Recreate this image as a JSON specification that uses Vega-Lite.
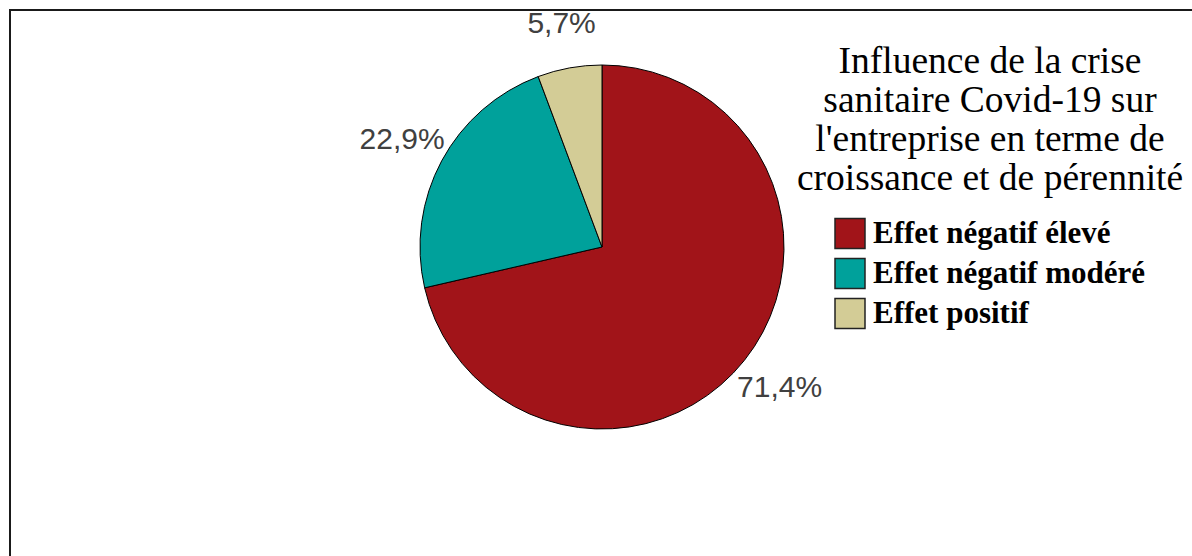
{
  "$schema": "https://vega.github.io/schema/vega-lite/v6.json",
  "autosize": "none",
  "width": 1182,
  "height": 546,
  "padding": {"left": 10, "top": 10, "right": 0, "bottom": 0},
  "background": "white",
  "view": {"stroke": "#1a1a1a", "strokeWidth": 2, "strokeDash": [1182, 1728, 546]},
  "data": {
    "values": [
      {"category": "Effet négatif élevé", "rank": 1, "pct": 71.4, "label": "71,4%"},
      {"category": "Effet négatif modéré", "rank": 2, "pct": 22.9, "label": "22,9%"},
      {"category": "Effet positif", "rank": 3, "pct": 5.7, "label": "5,7%"}
    ]
  },
  "layer": [
    {
      "mark": {"type": "arc", "radius": 182, "stroke": "#000000", "strokeWidth": 1, "xOffset": 1, "yOffset": -36},
      "encoding": {
        "theta": {"field": "pct", "type": "quantitative", "stack": true},
        "order": {"field": "rank", "type": "quantitative", "sort": "ascending"},
        "color": {
          "field": "category",
          "type": "nominal",
          "scale": {
            "domain": ["Effet négatif élevé", "Effet négatif modéré", "Effet positif"],
            "range": ["#A11419", "#00A19B", "#D3CC96"]
          },
          "legend": {
            "orient": "none",
            "legendX": 787,
            "legendY": 33,
            "padding": 0,
            "title": ["Influence de la crise", "sanitaire Covid-19 sur", "l'entreprise en terme de", "croissance et de pérennité"],
            "titleFont": "Liberation Serif",
            "titleFontSize": 37.5,
            "titleFontWeight": "normal",
            "titleColor": "#000000",
            "titleLineHeight": 39,
            "titleAlign": "center",
            "titleAnchor": "middle",
            "titlePadding": 20,
            "titleLimit": 600,
            "labelFont": "Liberation Serif",
            "labelFontSize": 31,
            "labelFontWeight": "bold",
            "labelColor": "#000000",
            "labelLimit": 500,
            "labelOffset": 7,
            "symbolType": "square",
            "symbolSize": 900,
            "symbolStrokeColor": "#222222",
            "symbolStrokeWidth": 1.5,
            "rowPadding": 4
          }
        }
      }
    },
    {
      "mark": {"type": "text", "radius": 227, "xOffset": 1, "yOffset": -36, "font": "Liberation Sans", "fontSize": 30},
      "encoding": {
        "theta": {"field": "pct", "type": "quantitative", "stack": true},
        "order": {"field": "rank", "type": "quantitative", "sort": "ascending"},
        "text": {"field": "label", "type": "nominal"},
        "color": {"value": "#404040"}
      }
    }
  ]
}
